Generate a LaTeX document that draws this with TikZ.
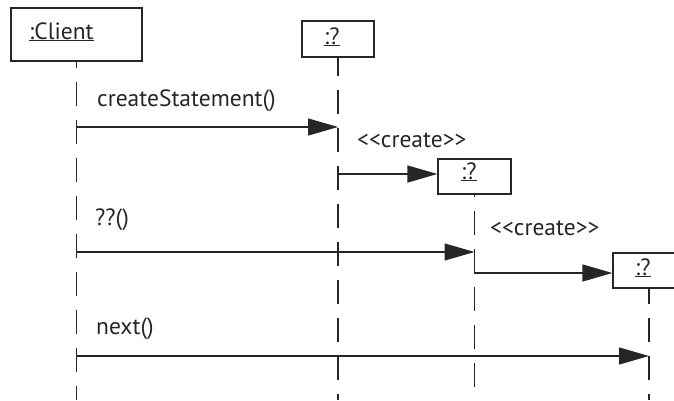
\documentclass[tikz,border=0pt]{standalone}
\usepackage{fontspec}
\setmainfont{PT Sans}
\usetikzlibrary{arrows.meta}
\begin{document}
\begin{tikzpicture}[x=1pt,y=-1pt,
  ink/.style={draw=black!85, line width=1.2pt},
  objbox/.style={ink, rectangle, inner sep=0pt, fill=white},
  lbl/.style={anchor=base west, inner sep=0pt, font=\fontsize{23.5}{27}\selectfont, text=black!85},
  lifeline/.style={ink, dash pattern=on 24pt off 14pt},
  msg/.style={ink, -{Triangle[length=30pt,width=17pt]}},
]
\useasboundingbox (0,0) rectangle (674,400);
\clip (0,0) rectangle (674,400);

% objects
\node[objbox, minimum width=131pt, minimum height=53pt] (client) at (76.5,34.5) {};
\node[lbl] (clientlbl) at (29,39) {\underline{:Client}};
\node[objbox, minimum width=72pt, minimum height=36pt] (q1) at (338,39) {};
\node[lbl] (q1lbl) at (324,44) {\underline{:?}};
\node[objbox, minimum width=73pt, minimum height=35pt] (q2) at (474.5,176.5) {};
\node[lbl] (q2lbl) at (461,179) {\underline{:?}};
\node[objbox, minimum width=72pt, minimum height=35pt] (q3) at (649,270.5) {};
\node[lbl] (q3lbl) at (635,275) {\underline{:?}};

% lifeline ends
\coordinate (cend) at (client.south |- 0,400);
\coordinate (q1end) at (q1.south |- 0,400);
\coordinate (q2end) at (q2.south |- 0,400);
\coordinate (q3end) at (q3.south |- 0,400);

\draw[lifeline, dash phase=18pt] (client.south) -- (cend);
\draw[lifeline, dash phase=6pt] (q1.south) -- (q1end);
\draw[lifeline, dash phase=22pt] (q2.south) -- (q2end);
\draw[lifeline, dash phase=9pt] (q3.south) -- (q3end);

% messages
\draw[msg] (client.south |- 0,127) -- (q1.south |- 0,127);
\draw[msg] (q1.south |- 0,174) -- (q2.west |- 0,174);
\draw[msg] (client.south |- 0,252) -- (q2.south |- 0,252);
\draw[msg] (q2.south |- 0,252) |- (q3.west |- 0,273);
\draw[msg] (client.south |- 0,356) -- (q3.south |- 0,356);

% labels
\node[lbl] (m1) at (97,106) {createStatement()};
\node[lbl] (m2) at (357,147) {<\kern0pt<create>\kern0pt>};
\node[lbl] (m3) at (95,225) {??()};
\node[lbl] (m4) at (490,235) {<\kern0pt<create>\kern0pt>};
\node[lbl] (m5) at (96,334) {next()};
\end{tikzpicture}
\end{document}
